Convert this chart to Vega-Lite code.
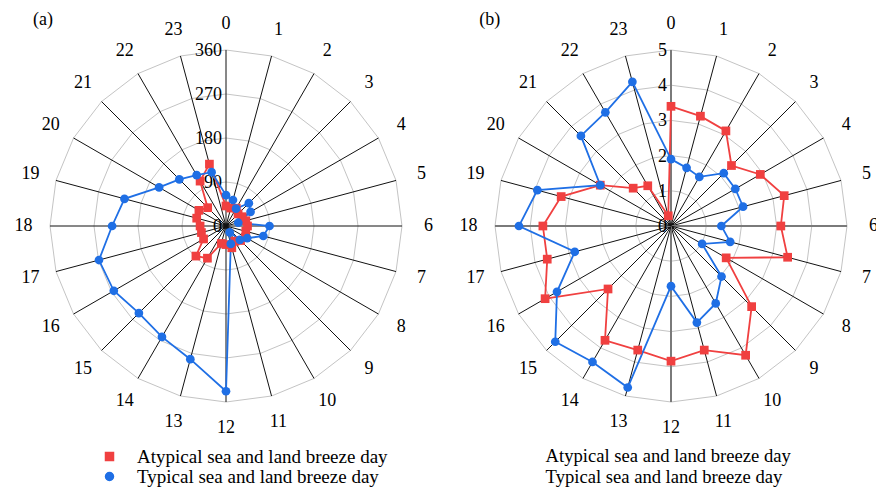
{
  "$schema": "https://vega.github.io/schema/vega-lite/v6.json",
  "padding": {"left": 6, "top": 6, "right": 0, "bottom": 0},
  "background": "white",
  "spacing": 5,
  "config": {"view": {"stroke": null}, "font": "Liberation Serif"},
  "datasets": {
    "hours": [
      {"hour": 0, "k": [1,2,3,4,5]}, {"hour": 1, "k": [1,2,3,4,5]}, {"hour": 2, "k": [1,2,3,4,5]}, {"hour": 3, "k": [1,2,3,4,5]},
      {"hour": 4, "k": [1,2,3,4,5]}, {"hour": 5, "k": [1,2,3,4,5]}, {"hour": 6, "k": [1,2,3,4,5]}, {"hour": 7, "k": [1,2,3,4,5]},
      {"hour": 8, "k": [1,2,3,4,5]}, {"hour": 9, "k": [1,2,3,4,5]}, {"hour": 10, "k": [1,2,3,4,5]}, {"hour": 11, "k": [1,2,3,4,5]},
      {"hour": 12, "k": [1,2,3,4,5]}, {"hour": 13, "k": [1,2,3,4,5]}, {"hour": 14, "k": [1,2,3,4,5]}, {"hour": 15, "k": [1,2,3,4,5]},
      {"hour": 16, "k": [1,2,3,4,5]}, {"hour": 17, "k": [1,2,3,4,5]}, {"hour": 18, "k": [1,2,3,4,5]}, {"hour": 19, "k": [1,2,3,4,5]},
      {"hour": 20, "k": [1,2,3,4,5]}, {"hour": 21, "k": [1,2,3,4,5]}, {"hour": 22, "k": [1,2,3,4,5]}, {"hour": 23, "k": [1,2,3,4,5]}
    ],
    "a": [
      {"hour": 0, "series": "Atypical sea and land breeze day", "value": 41},
      {"hour": 1, "series": "Atypical sea and land breeze day", "value": 38},
      {"hour": 2, "series": "Atypical sea and land breeze day", "value": 42},
      {"hour": 3, "series": "Atypical sea and land breeze day", "value": 35},
      {"hour": 4, "series": "Atypical sea and land breeze day", "value": 38},
      {"hour": 5, "series": "Atypical sea and land breeze day", "value": 42},
      {"hour": 6, "series": "Atypical sea and land breeze day", "value": 44},
      {"hour": 7, "series": "Atypical sea and land breeze day", "value": 42},
      {"hour": 8, "series": "Atypical sea and land breeze day", "value": 46},
      {"hour": 9, "series": "Atypical sea and land breeze day", "value": 42},
      {"hour": 10, "series": "Atypical sea and land breeze day", "value": 36},
      {"hour": 11, "series": "Atypical sea and land breeze day", "value": 46},
      {"hour": 12, "series": "Atypical sea and land breeze day", "value": 38},
      {"hour": 13, "series": "Atypical sea and land breeze day", "value": 37},
      {"hour": 14, "series": "Atypical sea and land breeze day", "value": 76},
      {"hour": 15, "series": "Atypical sea and land breeze day", "value": 87},
      {"hour": 16, "series": "Atypical sea and land breeze day", "value": 53},
      {"hour": 17, "series": "Atypical sea and land breeze day", "value": 52},
      {"hour": 18, "series": "Atypical sea and land breeze day", "value": 53},
      {"hour": 19, "series": "Atypical sea and land breeze day", "value": 62},
      {"hour": 20, "series": "Atypical sea and land breeze day", "value": 64},
      {"hour": 21, "series": "Atypical sea and land breeze day", "value": 53},
      {"hour": 22, "series": "Atypical sea and land breeze day", "value": 106},
      {"hour": 23, "series": "Atypical sea and land breeze day", "value": 131},
      {"hour": 0, "series": "Typical sea and land breeze day", "value": 63},
      {"hour": 1, "series": "Typical sea and land breeze day", "value": 55},
      {"hour": 2, "series": "Typical sea and land breeze day", "value": 41},
      {"hour": 3, "series": "Typical sea and land breeze day", "value": 66},
      {"hour": 4, "series": "Typical sea and land breeze day", "value": 58},
      {"hour": 5, "series": "Typical sea and land breeze day", "value": 26},
      {"hour": 6, "series": "Typical sea and land breeze day", "value": 89},
      {"hour": 7, "series": "Typical sea and land breeze day", "value": 79},
      {"hour": 8, "series": "Typical sea and land breeze day", "value": 50},
      {"hour": 9, "series": "Typical sea and land breeze day", "value": 40},
      {"hour": 10, "series": "Typical sea and land breeze day", "value": 15},
      {"hour": 11, "series": "Typical sea and land breeze day", "value": 38},
      {"hour": 12, "series": "Typical sea and land breeze day", "value": 338},
      {"hour": 13, "series": "Typical sea and land breeze day", "value": 282},
      {"hour": 14, "series": "Typical sea and land breeze day", "value": 262},
      {"hour": 15, "series": "Typical sea and land breeze day", "value": 252},
      {"hour": 16, "series": "Typical sea and land breeze day", "value": 265},
      {"hour": 17, "series": "Typical sea and land breeze day", "value": 269},
      {"hour": 18, "series": "Typical sea and land breeze day", "value": 233},
      {"hour": 19, "series": "Typical sea and land breeze day", "value": 215},
      {"hour": 20, "series": "Typical sea and land breeze day", "value": 158},
      {"hour": 21, "series": "Typical sea and land breeze day", "value": 135},
      {"hour": 22, "series": "Typical sea and land breeze day", "value": 120},
      {"hour": 23, "series": "Typical sea and land breeze day", "value": 114}
    ],
    "b": [
      {"hour": 0, "series": "Atypical sea and land breeze day", "value": 3.40},
      {"hour": 1, "series": "Atypical sea and land breeze day", "value": 3.23},
      {"hour": 2, "series": "Atypical sea and land breeze day", "value": 3.12},
      {"hour": 3, "series": "Atypical sea and land breeze day", "value": 2.43},
      {"hour": 4, "series": "Atypical sea and land breeze day", "value": 2.93},
      {"hour": 5, "series": "Atypical sea and land breeze day", "value": 3.33},
      {"hour": 6, "series": "Atypical sea and land breeze day", "value": 3.12},
      {"hour": 7, "series": "Atypical sea and land breeze day", "value": 3.43},
      {"hour": 8, "series": "Atypical sea and land breeze day", "value": 1.81},
      {"hour": 9, "series": "Atypical sea and land breeze day", "value": 3.24},
      {"hour": 10, "series": "Atypical sea and land breeze day", "value": 4.24},
      {"hour": 11, "series": "Atypical sea and land breeze day", "value": 3.65},
      {"hour": 12, "series": "Atypical sea and land breeze day", "value": 3.84},
      {"hour": 13, "series": "Atypical sea and land breeze day", "value": 3.65},
      {"hour": 14, "series": "Atypical sea and land breeze day", "value": 3.75},
      {"hour": 15, "series": "Atypical sea and land breeze day", "value": 2.53},
      {"hour": 16, "series": "Atypical sea and land breeze day", "value": 4.13},
      {"hour": 17, "series": "Atypical sea and land breeze day", "value": 3.64},
      {"hour": 18, "series": "Atypical sea and land breeze day", "value": 3.64},
      {"hour": 19, "series": "Atypical sea and land breeze day", "value": 3.23},
      {"hour": 20, "series": "Atypical sea and land breeze day", "value": 2.32},
      {"hour": 21, "series": "Atypical sea and land breeze day", "value": 1.52},
      {"hour": 22, "series": "Atypical sea and land breeze day", "value": 1.32},
      {"hour": 23, "series": "Atypical sea and land breeze day", "value": 0.30},
      {"hour": 0, "series": "Typical sea and land breeze day", "value": 1.90},
      {"hour": 1, "series": "Typical sea and land breeze day", "value": 1.71},
      {"hour": 2, "series": "Typical sea and land breeze day", "value": 1.61},
      {"hour": 3, "series": "Typical sea and land breeze day", "value": 2.12},
      {"hour": 4, "series": "Typical sea and land breeze day", "value": 2.11},
      {"hour": 5, "series": "Typical sea and land breeze day", "value": 2.12},
      {"hour": 6, "series": "Typical sea and land breeze day", "value": 1.43},
      {"hour": 7, "series": "Typical sea and land breeze day", "value": 1.74},
      {"hour": 8, "series": "Typical sea and land breeze day", "value": 1.02},
      {"hour": 9, "series": "Typical sea and land breeze day", "value": 2.03},
      {"hour": 10, "series": "Typical sea and land breeze day", "value": 2.54},
      {"hour": 11, "series": "Typical sea and land breeze day", "value": 2.84},
      {"hour": 12, "series": "Typical sea and land breeze day", "value": 1.71},
      {"hour": 13, "series": "Typical sea and land breeze day", "value": 4.75},
      {"hour": 14, "series": "Typical sea and land breeze day", "value": 4.46},
      {"hour": 15, "series": "Typical sea and land breeze day", "value": 4.65},
      {"hour": 16, "series": "Typical sea and land breeze day", "value": 3.74},
      {"hour": 17, "series": "Typical sea and land breeze day", "value": 2.83},
      {"hour": 18, "series": "Typical sea and land breeze day", "value": 4.32},
      {"hour": 19, "series": "Typical sea and land breeze day", "value": 3.93},
      {"hour": 20, "series": "Typical sea and land breeze day", "value": 2.32},
      {"hour": 21, "series": "Typical sea and land breeze day", "value": 3.62},
      {"hour": 22, "series": "Typical sea and land breeze day", "value": 3.73},
      {"hour": 23, "series": "Typical sea and land breeze day", "value": 4.24}
    ]
  },
  "resolve": {"scale": {"color": "independent", "shape": "independent"}, "legend": {"color": "independent", "shape": "independent"}},
  "hconcat": [
    {
      "width": 440,
      "height": 440,
      "encoding": {
        "x": {"field": "x", "type": "quantitative", "scale": {"domain": [-1.25, 1.25], "nice": false, "zero": false}, "axis": null},
        "y": {"field": "y", "type": "quantitative", "scale": {"domain": [-1.25, 1.25], "nice": false, "zero": false}, "axis": null}
      },
      "layer": [
        {
          "data": {"name": "hours"},
          "transform": [
            {"flatten": ["k"]},
            {"filter": "datum.k <= 4"},
            {"calculate": "datum.k/4*sin(datum.hour*PI/12)", "as": "x"},
            {"calculate": "datum.k/4*cos(datum.hour*PI/12)", "as": "y"}
          ],
          "mark": {"type": "line", "interpolate": "linear-closed", "stroke": "#c4c4c4", "strokeWidth": 1},
          "encoding": {"detail": {"field": "k", "type": "nominal"}, "order": {"field": "hour", "type": "quantitative"}}
        },
        {
          "data": {"name": "hours"},
          "transform": [
            {"calculate": "0", "as": "x"},
            {"calculate": "0", "as": "y"},
            {"calculate": "sin(datum.hour*PI/12)", "as": "x2"},
            {"calculate": "cos(datum.hour*PI/12)", "as": "y2"}
          ],
          "mark": {"type": "rule", "color": "#111111", "strokeWidth": 1},
          "encoding": {"x2": {"field": "x2"}, "y2": {"field": "y2"}}
        },
        {
          "data": {"name": "hours"},
          "transform": [
            {"calculate": "1.15*sin(datum.hour*PI/12)", "as": "x"},
            {"calculate": "1.15*cos(datum.hour*PI/12)", "as": "y"}
          ],
          "mark": {"type": "text", "fontSize": 18, "color": "black", "align": "center", "baseline": "middle"},
          "encoding": {"text": {"field": "hour", "type": "nominal"}}
        },
        {
          "data": {"values": [{"v": 0}, {"v": 90}, {"v": 180}, {"v": 270}, {"v": 360}]},
          "transform": [
            {"calculate": "0", "as": "x"},
            {"calculate": "datum.v/360", "as": "y"}
          ],
          "mark": {"type": "text", "fontSize": 18, "color": "black", "align": "right", "baseline": "middle", "dx": -4, "dy": 1},
          "encoding": {"text": {"field": "v", "type": "nominal"}}
        },
        {
          "data": {"values": [{"label": "(a)"}]},
          "transform": [
            {"calculate": "-1.04", "as": "x"},
            {"calculate": "1.17", "as": "y"}
          ],
          "mark": {"type": "text", "fontSize": 18, "color": "black", "align": "center", "baseline": "middle"},
          "encoding": {"text": {"field": "label", "type": "nominal"}}
        },
        {
          "data": {"name": "a"},
          "transform": [
            {"calculate": "datum.value/360*sin(datum.hour*PI/12)", "as": "x"},
            {"calculate": "datum.value/360*cos(datum.hour*PI/12)", "as": "y"}
          ],
          "mark": {"type": "line", "interpolate": "linear-closed", "strokeWidth": 1.8},
          "encoding": {
            "order": {"field": "hour", "type": "quantitative"},
            "color": {
              "field": "series", "type": "nominal",
              "scale": {"domain": ["Atypical sea and land breeze day", "Typical sea and land breeze day"], "range": ["#F04040", "#1F6FE5"]},
              "legend": {
                "title": null, "orient": "none", "legendX": 94, "legendY": 441, "direction": "vertical",
                "labelFontSize": 19, "labelColor": "black", "labelLimit": 0, "labelFont": "Liberation Serif",
                "symbolSize": 64, "labelOffset": 18, "padding": 0, "rowPadding": 0
              }
            }
          }
        },
        {
          "data": {"name": "a"},
          "transform": [
            {"calculate": "datum.value/360*sin(datum.hour*PI/12)", "as": "x"},
            {"calculate": "datum.value/360*cos(datum.hour*PI/12)", "as": "y"}
          ],
          "mark": {"type": "point", "filled": true, "size": 76, "opacity": 1},
          "encoding": {
            "color": {"field": "series", "type": "nominal"},
            "shape": {"field": "series", "type": "nominal", "scale": {"domain": ["Atypical sea and land breeze day", "Typical sea and land breeze day"], "range": ["square", "circle"]}, "legend": null}
          }
        }
      ]
    },
    {
      "width": 440,
      "height": 440,
      "encoding": {
        "x": {"field": "x", "type": "quantitative", "scale": {"domain": [-1.25, 1.25], "nice": false, "zero": false}, "axis": null},
        "y": {"field": "y", "type": "quantitative", "scale": {"domain": [-1.25, 1.25], "nice": false, "zero": false}, "axis": null}
      },
      "layer": [
        {
          "data": {"name": "hours"},
          "transform": [
            {"flatten": ["k"]},
            {"calculate": "datum.k/5*sin(datum.hour*PI/12)", "as": "x"},
            {"calculate": "datum.k/5*cos(datum.hour*PI/12)", "as": "y"}
          ],
          "mark": {"type": "line", "interpolate": "linear-closed", "stroke": "#c4c4c4", "strokeWidth": 1},
          "encoding": {"detail": {"field": "k", "type": "nominal"}, "order": {"field": "hour", "type": "quantitative"}}
        },
        {
          "data": {"name": "hours"},
          "transform": [
            {"calculate": "0", "as": "x"},
            {"calculate": "0", "as": "y"},
            {"calculate": "sin(datum.hour*PI/12)", "as": "x2"},
            {"calculate": "cos(datum.hour*PI/12)", "as": "y2"}
          ],
          "mark": {"type": "rule"},
          "encoding": {
            "x2": {"field": "x2"}, "y2": {"field": "y2"},
            "color": {"condition": {"test": "datum.hour % 6 == 0", "value": "#7a7a7a"}, "value": "#111111"},
            "strokeWidth": {"condition": {"test": "datum.hour % 6 == 0", "value": 2}, "value": 1}
          }
        },
        {
          "data": {"name": "hours"},
          "transform": [
            {"calculate": "1.15*sin(datum.hour*PI/12)", "as": "x"},
            {"calculate": "1.15*cos(datum.hour*PI/12)", "as": "y"}
          ],
          "mark": {"type": "text", "fontSize": 18, "color": "black", "align": "center", "baseline": "middle"},
          "encoding": {"text": {"field": "hour", "type": "nominal"}}
        },
        {
          "data": {"values": [{"v": 0}, {"v": 1}, {"v": 2}, {"v": 3}, {"v": 4}, {"v": 5}]},
          "transform": [
            {"calculate": "0", "as": "x"},
            {"calculate": "datum.v/5", "as": "y"}
          ],
          "mark": {"type": "text", "fontSize": 18, "color": "black", "align": "right", "baseline": "middle", "dx": -4, "dy": 1},
          "encoding": {"text": {"field": "v", "type": "nominal"}}
        },
        {
          "data": {"values": [{"label": "(b)"}]},
          "transform": [
            {"calculate": "-1.03", "as": "x"},
            {"calculate": "1.17", "as": "y"}
          ],
          "mark": {"type": "text", "fontSize": 18, "color": "black", "align": "center", "baseline": "middle"},
          "encoding": {"text": {"field": "label", "type": "nominal"}}
        },
        {
          "data": {"name": "b"},
          "transform": [
            {"calculate": "datum.value/5*sin(datum.hour*PI/12)", "as": "x"},
            {"calculate": "datum.value/5*cos(datum.hour*PI/12)", "as": "y"}
          ],
          "mark": {"type": "line", "interpolate": "linear-closed", "strokeWidth": 1.8},
          "encoding": {
            "order": {"field": "hour", "type": "quantitative"},
            "color": {
              "field": "series", "type": "nominal",
              "scale": {"domain": ["Atypical sea and land breeze day", "Typical sea and land breeze day"], "range": ["#F04040", "#1F6FE5"]},
              "legend": {
                "title": null, "orient": "none", "legendX": 76, "legendY": 441, "direction": "vertical",
                "labelFontSize": 18.6, "labelColor": "black", "labelLimit": 0, "labelFont": "Liberation Serif",
                "symbolSize": 0, "symbolStrokeWidth": 0, "labelOffset": 0, "padding": 0, "rowPadding": 2
              }
            }
          }
        },
        {
          "data": {"name": "b"},
          "transform": [
            {"calculate": "datum.value/5*sin(datum.hour*PI/12)", "as": "x"},
            {"calculate": "datum.value/5*cos(datum.hour*PI/12)", "as": "y"}
          ],
          "mark": {"type": "point", "filled": true, "size": 76, "opacity": 1},
          "encoding": {
            "color": {"field": "series", "type": "nominal"},
            "shape": {"field": "series", "type": "nominal", "scale": {"domain": ["Atypical sea and land breeze day", "Typical sea and land breeze day"], "range": ["square", "circle"]}, "legend": null}
          }
        }
      ]
    }
  ]
}
